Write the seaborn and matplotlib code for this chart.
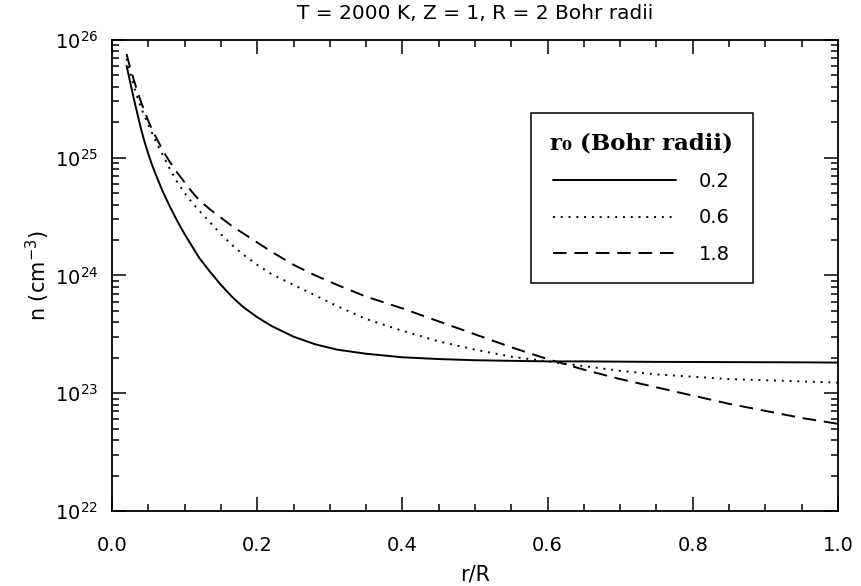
import numpy as np
import pandas as pd
import matplotlib
matplotlib.use("Agg")
import matplotlib.pyplot as plt
from matplotlib.ticker import MultipleLocator, LogLocator
import seaborn as sns

# r/R sample positions
r_over_R = [0.02, 0.025, 0.03, 0.035, 0.04, 0.045, 0.05, 0.055, 0.06, 0.07, 0.08, 0.09,
            0.10, 0.11, 0.12, 0.135, 0.15, 0.165, 0.18, 0.20, 0.22, 0.25, 0.28, 0.31,
            0.35, 0.40, 0.45, 0.50, 0.55, 0.60, 0.65, 0.70, 0.75, 0.80, 0.85, 0.90,
            0.95, 1.00]

# log10 of n (cm^-3) for each r0
log_n_02 = [25.78, 25.64, 25.50, 25.37, 25.24, 25.13, 25.03, 24.94, 24.86, 24.71, 24.58, 24.46,
            24.35, 24.25, 24.15, 24.03, 23.92, 23.82, 23.735, 23.645, 23.57, 23.48, 23.415, 23.37,
            23.335, 23.305, 23.29, 23.28, 23.275, 23.27, 23.27, 23.268, 23.266, 23.265, 23.264, 23.263,
            23.262, 23.26]
log_n_06 = [25.84, 25.72, 25.61, 25.51, 25.42, 25.35, 25.28, 25.21, 25.14, 25.02, 24.90, 24.79,
            24.70, 24.62, 24.55, 24.45, 24.35, 24.26, 24.18, 24.09, 24.01, 23.92, 23.83, 23.74,
            23.63, 23.53, 23.44, 23.37, 23.31, 23.27, 23.23, 23.19, 23.16, 23.14, 23.12, 23.11,
            23.10, 23.09]
log_n_18 = [25.88, 25.76, 25.66, 25.56, 25.47, 25.39, 25.31, 25.24, 25.18, 25.06, 24.96, 24.87,
            24.79, 24.71, 24.64, 24.56, 24.49, 24.42, 24.36, 24.28, 24.20, 24.09, 24.00, 23.92,
            23.82, 23.72, 23.61, 23.50, 23.39, 23.29, 23.20, 23.12, 23.05, 22.98, 22.91, 22.85,
            22.79, 22.74]

r0_labels = ["0.2", "0.6", "1.8"]


def build_frame():
    rows = []
    for lab, vals in zip(r0_labels, [log_n_02, log_n_06, log_n_18]):
        for r, v in zip(r_over_R, vals):
            rows.append({"r": r, "n": 10.0 ** v, "r0": lab})
    return pd.DataFrame(rows)


def make_plot():
    sns.set_style("ticks")
    plt.rcParams['font.family'] = ['DejaVu Sans']
    plt.rcParams['text.color'] = 'black'
    plt.rcParams['axes.labelcolor'] = 'black'
    df = build_frame()

    fig = plt.figure(figsize=(8.62, 5.86), dpi=100)
    ax = fig.add_axes([0.130, 0.128, 0.842, 0.804])

    sns.lineplot(data=df, x="r", y="n", style="r0", style_order=r0_labels,
                 dashes={"0.2": "", "0.6": (1, 3), "1.8": (7, 4)},
                 color="black", linewidth=1.4, legend=False, ax=ax)

    ax.set_yscale("log")
    ax.set_xlim(0, 1)
    ax.set_ylim(1e22, 1e26)
    ax.xaxis.set_major_locator(MultipleLocator(0.2))
    ax.xaxis.set_minor_locator(MultipleLocator(0.05))
    ax.yaxis.set_major_locator(LogLocator(base=10, numticks=10))
    ax.yaxis.set_minor_locator(LogLocator(base=10, subs=np.arange(2, 10), numticks=10))
    ax.xaxis.set_major_formatter(plt.FuncFormatter(lambda v, p: f"{v:.1f}"))

    ax.tick_params(which="both", direction="in", top=True, right=True,
                   width=1.1, colors="black", labelsize=14)
    ax.tick_params(axis="x", which="major", length=10, pad=18)
    ax.tick_params(axis="y", which="major", length=10, pad=10)
    ax.tick_params(which="minor", length=5)
    for sp in ax.spines.values():
        sp.set_linewidth(1.3)
        sp.set_color("black")

    ax.set_xlabel("r/R", fontsize=15, labelpad=7)
    ax.set_ylabel("n (cm$^{-3}$)", fontsize=15, labelpad=2)
    ax.set_title("T = 2000 K, Z = 1, R = 2 Bohr radii", fontsize=14.5, pad=15)

    lines = ax.get_lines()[:3]
    leg = ax.legend(lines, r0_labels, loc="upper left",
                    bbox_to_anchor=(0.577, 0.845), borderaxespad=0, fontsize=14,
                    title="r\u2080 (Bohr radii)",
                    title_fontproperties={"family": "DejaVu Serif", "weight": "bold", "size": 16.5},
                    handlelength=6.3, handletextpad=1.2, labelspacing=0.9,
                    borderpad=1.0, fancybox=False, framealpha=1, edgecolor="black")
    leg.get_frame().set_linewidth(1.1)

    fig.savefig("out.png", dpi=100)


if __name__ == "__main__":
    make_plot()
